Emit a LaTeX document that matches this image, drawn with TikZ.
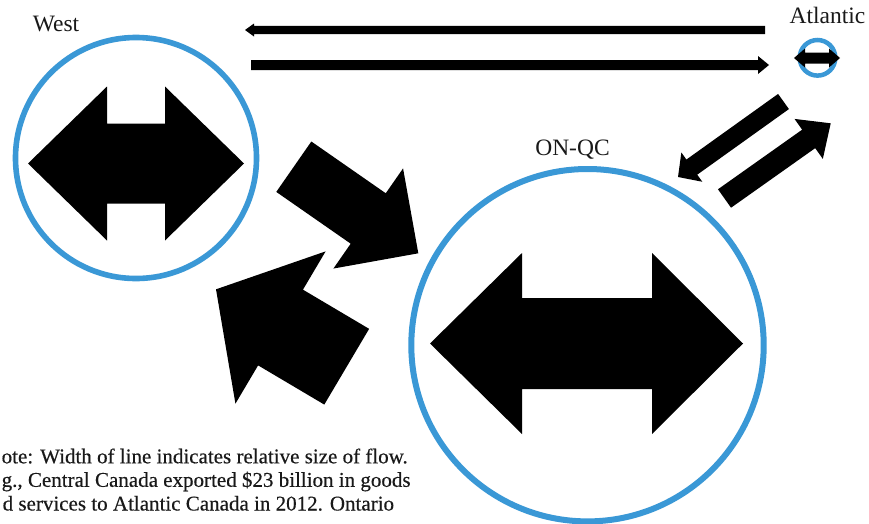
\documentclass[tikz,border=0pt]{standalone}
\usepackage{fontspec}
\setmainfont{Liberation Serif}
\newfontfamily\notefont[FakeBold=0.35]{Liberation Serif}
\usetikzlibrary{calc}
\definecolor{ringblue}{RGB}{58,152,214}
% block arrow: #1 tail centre, #2 tip, #3 shaft half width, #4 head half width, #5 head length
\newcommand\blockarr[5]{%
  \coordinate (ba-t) at (#1);
  \coordinate (ba-h) at (#2);
  \coordinate (ba-b) at ($(ba-h)!#5!(ba-t)$);
  \fill[blk] ($(ba-t)!#3!90:(ba-h)$) -- ($(ba-b)!#3!90:(ba-h)$) -- ($(ba-b)!#4!90:(ba-h)$)
    -- (ba-h) -- ($(ba-b)!#4!-90:(ba-h)$) -- ($(ba-b)!#3!-90:(ba-h)$)
    -- ($(ba-t)!#3!-90:(ba-h)$) -- cycle;
}
\begin{document}
\begin{tikzpicture}[x=1pt,y=-1pt,
  ring/.style={circle,draw=ringblue,inner sep=0pt,outer sep=0pt},
  lbl/.style={font=\fontsize{23.5}{28}\selectfont,text=black!90,inner sep=0pt,anchor=base},
  note/.style={font=\notefont\fontsize{21}{23.6}\selectfont,text=black!90,inner sep=0pt,anchor=base west},
  blk/.style={fill=black}]
\useasboundingbox (0,0) rectangle (869,523);
\fill[white] (0,0) rectangle (869,523);

% regions
\node[ring,line width=5.6pt,minimum size=241pt] (west) at (136,158) {};
\node[ring,line width=6pt,minimum size=352.4pt] (onqc) at (587.5,345.2) {};
\node[ring,line width=4.5pt,minimum size=35.6pt] (atl) at (817.5,57.8) {};

% internal flows
\fill[blk] (28,163.5) -- (107,86.5) -- (107,123.5) -- (165,123.5) -- (165,86.5) -- (244,163.5)
  -- (165,240.5) -- (165,203.5) -- (107,203.5) -- (107,240.5) -- cycle;
\fill[blk] (430,343.5) -- (522,253) -- (522,298) -- (652,298) -- (652,253) -- (743,343.5)
  -- (652,434) -- (652,389) -- (522,389) -- (522,434) -- cycle;
\fill[blk] (794,58) -- (805,48.5) -- (805,52.5) -- (829,52.5) -- (829,48.5) -- (840,58)
  -- (829,67.5) -- (829,63.5) -- (805,63.5) -- (805,67.5) -- cycle;

% labels
\node[lbl] (westlbl) at (56,31) {West};
\node[lbl] (atllbl) at (827.5,23) {Atlantic};
\node[lbl] (onqclbl) at (572.5,155.5) {ON-QC};

% inter-regional flows
\coordinate (a1) at (765,30);    \coordinate (a2) at (245,30);
\coordinate (b1) at (251,65);    \coordinate (b2) at (769,65);
\coordinate (c1) at (783.5,101.5); \coordinate (c2) at (678,177);
\coordinate (d1) at (724.5,198.5); \coordinate (d2) at (830.7,123.3);
\coordinate (e1) at (293.8,166.7); \coordinate (e2) at (418.3,253.3);
\coordinate (f1) at (346.7,366.7); \coordinate (f2) at (216,289.3);
\blockarr{a1}{a2}{4.2pt}{6.5pt}{9pt}
\blockarr{b1}{b2}{5pt}{9pt}{11pt}
\blockarr{c1}{c2}{9.3pt}{18pt}{17pt}
\blockarr{d1}{d2}{11.3pt}{24.5pt}{27pt}
\blockarr{e1}{e2}{30.7pt}{61pt}{61pt}
\blockarr{f1}{f2}{44pt}{88.5pt}{75pt}

% note
\node[note] (n1) at (1.5,463.3) {ote: Width of line indicates relative size of flow.};
\node[note] (n2) at (1.5,486.8) {g., Central Canada exported \$23 billion in goods};
\node[note] (n3) at (2.5,510.5) {d services to Atlantic Canada in 2012. Ontario};
\end{tikzpicture}
\end{document}
